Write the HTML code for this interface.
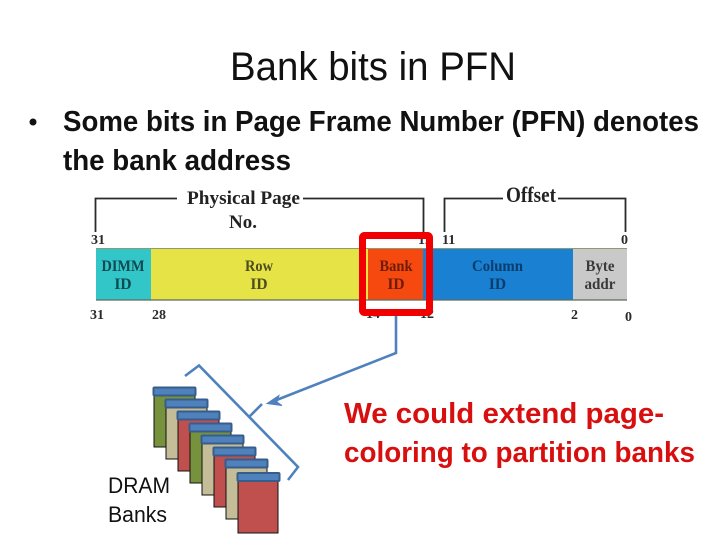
<!DOCTYPE html>
<html>
<head>
<meta charset="utf-8">
<style>
html,body{margin:0;padding:0;background:#fff;width:720px;height:540px;overflow:hidden}
svg{display:block}
.s{font-family:"Liberation Sans",sans-serif}
.t{font-family:"Liberation Serif",serif;font-weight:bold}
</style>
</head>
<body>
<svg width="720" height="540" viewBox="0 0 720 540" xmlns="http://www.w3.org/2000/svg">
<rect width="720" height="540" fill="#fff"/>
<text class="s" x="230" y="80" font-size="40" fill="#111" textLength="286" lengthAdjust="spacingAndGlyphs">Bank bits in PFN</text>
<circle cx="33" cy="122" r="3.500" fill="#111"/>
<text class="s" x="63" y="131" font-size="28.500" font-weight="bold" fill="#111" textLength="636" lengthAdjust="spacingAndGlyphs">Some bits in Page Frame Number (PFN) denotes</text>
<text class="s" x="63" y="170" font-size="28.500" font-weight="bold" fill="#111" textLength="228" lengthAdjust="spacingAndGlyphs">the bank address</text>

<!-- brackets -->
<g fill="none" stroke="#2a2a2a" stroke-width="1.800">
<path d="M95.500 232V198.500H177"/>
<path d="M303 198.500H423.500V232"/>
<path d="M444.500 232V198.500H503"/>
<path d="M558 198.500H625.500V232"/>
</g>
<text class="t" x="187" y="204" font-size="19" fill="#222" textLength="113" lengthAdjust="spacingAndGlyphs">Physical Page</text>
<text class="t" x="229" y="228" font-size="19" fill="#222" textLength="28" lengthAdjust="spacingAndGlyphs">No.</text>
<text class="t" x="506" y="202" font-size="22" fill="#222" textLength="50" lengthAdjust="spacingAndGlyphs">Offset</text>

<!-- bar -->
<rect x="96" y="248" width="55" height="52" fill="#33c6c9"/>
<rect x="151" y="248" width="217" height="52" fill="#e5e346"/>
<rect x="368" y="248" width="55" height="52" fill="#f5490f"/>
<rect x="423" y="248" width="150" height="52" fill="#1a80d2"/>
<rect x="573" y="248" width="54" height="52" fill="#c9c9c9"/>
<path d="M96 248.500H627" stroke="#8f9a70" stroke-width="1"/>
<path d="M96 300H627" stroke="#5e6a5c" stroke-width="1.300"/>

<g class="t" font-size="15.500" text-anchor="middle">
<text x="123" y="271" fill="#0e4a50" textLength="43" lengthAdjust="spacingAndGlyphs">DIMM</text>
<text x="123" y="289" fill="#0e4a50">ID</text>
<text x="259" y="271" fill="#4d4d20" textLength="28" lengthAdjust="spacingAndGlyphs">Row</text>
<text x="259" y="289" fill="#4d4d20">ID</text>
<text x="396" y="271" fill="#6e1c08" textLength="33" lengthAdjust="spacingAndGlyphs">Bank</text>
<text x="396" y="289" fill="#6e1c08">ID</text>
<text x="497.500" y="271" fill="#0a3d6e" textLength="51" lengthAdjust="spacingAndGlyphs">Column</text>
<text x="497.500" y="289" fill="#0a3d6e">ID</text>
<text x="600" y="271" fill="#3a3a3a" textLength="29" lengthAdjust="spacingAndGlyphs">Byte</text>
<text x="600" y="289" fill="#3a3a3a" textLength="31" lengthAdjust="spacingAndGlyphs">addr</text>
</g>

<g class="t" font-size="14" fill="#2a2a2a">
<text x="91" y="244">31</text>
<text x="418" y="244">12</text>
<text x="442" y="244">11</text>
<text x="621" y="244">0</text>
<text x="90" y="319">31</text>
<text x="152" y="319">28</text>
<text x="366" y="318">14</text>
<text x="420" y="318">12</text>
<text x="571" y="319">2</text>
<text x="625" y="321">0</text>
</g>

<!-- red highlight -->
<rect x="362.500" y="235.500" width="67" height="77" rx="2" fill="none" stroke="#f00000" stroke-width="7"/>

<!-- connector -->
<path d="M396 316V353L274 401" fill="none" stroke="#4f81bd" stroke-width="2.600"/>
<path d="M267 403.500L279 395.500L277 402L282 405.500Z" fill="#4f81bd" stroke="#4f81bd" stroke-width="1"/>

<!-- curly bracket -->
<path d="M185 376L199 365.500L298 467L288 480M250 416L262 404" fill="none" stroke="#4f81bd" stroke-width="2.600"/>

<!-- banks -->
<g stroke="#111" stroke-width="1">
<rect x="154" y="392" width="41" height="55" fill="#76923c"/>
<rect x="166" y="404" width="41" height="55" fill="#c4bd97"/>
<rect x="178" y="416" width="41" height="55" fill="#c0504d"/>
<rect x="190" y="428" width="41" height="55" fill="#76923c"/>
<rect x="202" y="440" width="41" height="55" fill="#c4bd97"/>
<rect x="214" y="452" width="41" height="55" fill="#c0504d"/>
<rect x="226" y="464" width="41" height="55" fill="#c4bd97"/>
<rect x="238" y="476" width="40" height="57" fill="#c0504d"/>
</g>
<g fill="#4f81bd" stroke="#385d8a" stroke-width="2">
<rect x="153.500" y="387.500" width="42" height="8" rx="1"/>
<rect x="165.500" y="399.500" width="42" height="8" rx="1"/>
<rect x="177.500" y="411.500" width="42" height="8" rx="1"/>
<rect x="189.500" y="423.500" width="42" height="8" rx="1"/>
<rect x="201.500" y="435.500" width="42" height="8" rx="1"/>
<rect x="213.500" y="447.500" width="42" height="8" rx="1"/>
<rect x="225.500" y="459.500" width="42" height="8" rx="1"/>
<rect x="237.500" y="473" width="42" height="8" rx="1"/>
</g>

<text class="s" x="108" y="493" font-size="22" fill="#111" textLength="62" lengthAdjust="spacingAndGlyphs">DRAM</text>
<text class="s" x="108" y="522" font-size="22" fill="#111" textLength="59" lengthAdjust="spacingAndGlyphs">Banks</text>

<text class="s" x="344" y="423" font-size="29" font-weight="bold" fill="#d80f0f" textLength="320" lengthAdjust="spacingAndGlyphs">We could extend page-</text>
<text class="s" x="344" y="462" font-size="29" font-weight="bold" fill="#d80f0f" textLength="351" lengthAdjust="spacingAndGlyphs">coloring to partition banks</text>
</svg>
</body>
</html>
